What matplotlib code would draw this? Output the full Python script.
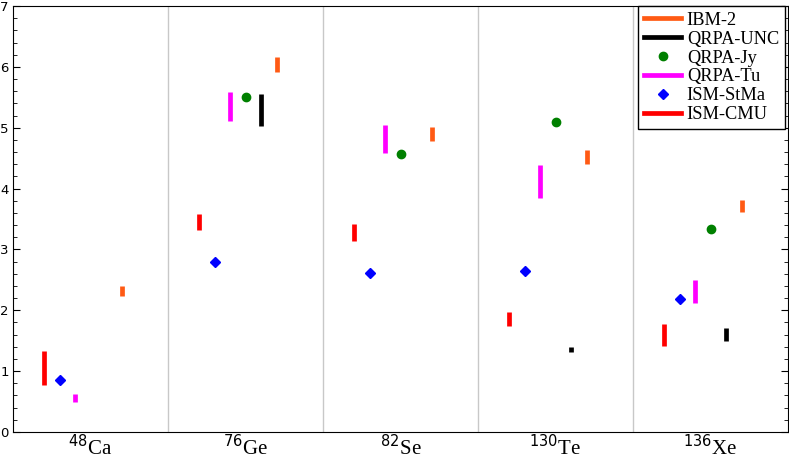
import matplotlib
matplotlib.use("Agg")
import matplotlib.pyplot as plt
from matplotlib.ticker import MultipleLocator
from matplotlib.lines import Line2D
import numpy as np

nuclei = [r"$^{48}$Ca", r"$^{76}$Ge", r"$^{82}$Se", r"$^{130}$Te", r"$^{136}$Xe"]

# ranges (low, high); None = missing
ism_cmu_lo = [0.77, 3.32, 3.14, 1.74, 1.41]
ism_cmu_hi = [1.33, 3.59, 3.41, 1.97, 1.78]
ism_stma = [0.85, 2.80, 2.62, 2.64, 2.19]
qrpa_tu_lo = [0.50, 5.11, 4.58, 3.84, 2.12]
qrpa_tu_hi = [0.62, 5.58, 5.04, 4.39, 2.50]
qrpa_jy = [None, 5.50, 4.56, 5.10, 3.33]
qrpa_unc_lo = [None, 5.03, None, 1.32, 1.50]
qrpa_unc_hi = [None, 5.55, None, 1.40, 1.71]
ibm2_lo = [2.24, 5.92, 4.78, 4.41, 3.61]
ibm2_hi = [2.40, 6.17, 5.01, 4.63, 3.81]

c_ibm = "#ff5a14"
c_unc = "black"
c_jy = "#008000"
c_tu = "#ff00ff"
c_stma = "#0000ff"
c_cmu = "#ff0000"

fig = plt.figure(figsize=(7.89, 4.59), dpi=100)
ax = fig.add_axes([13 / 789, 27 / 459, 775 / 789, 426 / 459])

x = np.arange(len(nuclei))
lw = 3.4

def bars(off, lo, hi, color):
    for xi, l, h in zip(x, lo, hi):
        if l is None:
            continue
        ax.plot([xi + off, xi + off], [l, h], color=color, lw=lw,
                solid_capstyle="butt", zorder=3)

bars(-0.3, ism_cmu_lo, ism_cmu_hi, c_cmu)
ax.plot(x - 0.2, ism_stma, linestyle="none", marker="D", ms=5.5,
        color=c_stma, zorder=3)
bars(-0.1, qrpa_tu_lo, qrpa_tu_hi, c_tu)
jx = [xi for xi, v in zip(x, qrpa_jy) if v is not None]
jy = [v for v in qrpa_jy if v is not None]
ax.plot(jx, jy, linestyle="none", marker="o", ms=6, color=c_jy, zorder=3)
bars(0.1, qrpa_unc_lo, qrpa_unc_hi, c_unc)
bars(0.2, ibm2_lo, ibm2_hi, c_ibm)

ax.set_xlim(-0.5, len(nuclei) - 0.5)
ax.set_ylim(0, 7)
for b in np.arange(0.5, len(nuclei) - 0.5, 1.0):
    ax.axvline(b, color="#c8c8c8", lw=1, zorder=1)

ax.set_xticks(x)
ax.set_xticklabels(nuclei, fontsize=15)
for lab in ax.get_xticklabels():
    lab.set_fontfamily(["Liberation Serif", "DejaVu Serif"])
ax.tick_params(axis="x", length=0, pad=2)
ax.yaxis.set_major_locator(MultipleLocator(1))
ax.yaxis.set_minor_locator(MultipleLocator(0.2))
ax.tick_params(axis="y", which="both", direction="in", right=True,
               labelsize=9.5, pad=3)
ax.tick_params(axis="y", which="major", length=5)
ax.tick_params(axis="y", which="minor", length=3)

handles = [
    Line2D([], [], color=c_ibm, lw=3.4),
    Line2D([], [], color=c_unc, lw=3.4),
    Line2D([], [], color=c_jy, marker="o", ms=6, linestyle="none"),
    Line2D([], [], color=c_tu, lw=3.4),
    Line2D([], [], color=c_stma, marker="D", ms=5.5, linestyle="none"),
    Line2D([], [], color=c_cmu, lw=3.4),
]
labels = ["IBM-2", "QRPA-UNC", "QRPA-Jy", "QRPA-Tu", "ISM-StMa", "ISM-CMU"]
leg = ax.legend(handles, labels, loc="upper right", bbox_to_anchor=(0.996, 1.0),
                borderaxespad=0, fancybox=False, framealpha=1,
                edgecolor="black", prop={"family": "Liberation Serif", "size": 13.2},
                labelspacing=0.1, handlelength=2.0, handletextpad=0.32,
                borderpad=0.32)
leg.get_frame().set_linewidth(1.0)

fig.savefig("out.png", dpi=100)
